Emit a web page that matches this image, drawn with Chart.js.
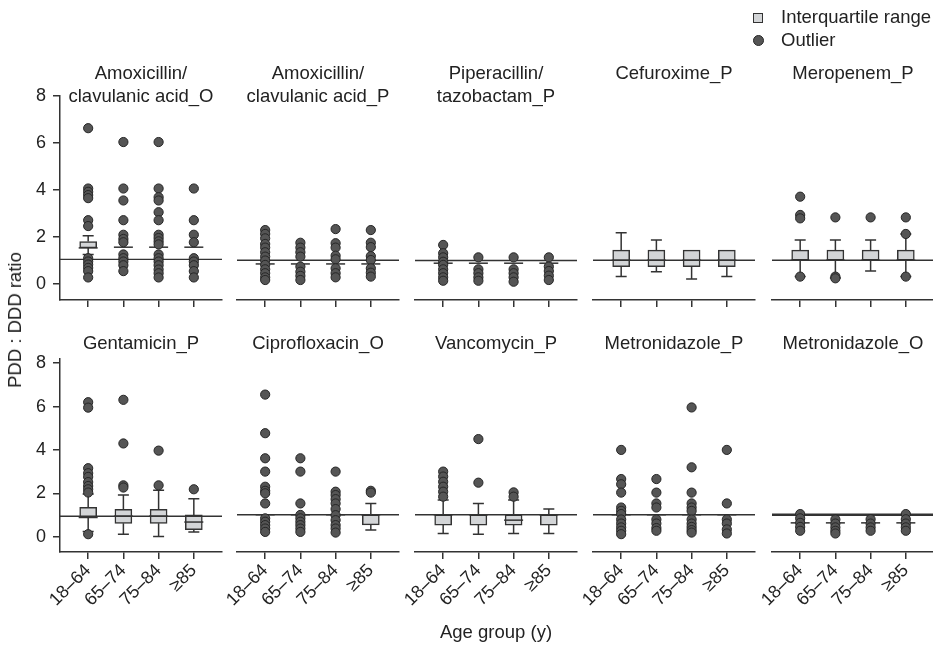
<!DOCTYPE html>
<html>
<head>
<meta charset="utf-8">
<script src="https://cdn.jsdelivr.net/npm/chart.js@4.4.1/dist/chart.umd.min.js"></script>
<style>
  body { margin: 0; background: #fff; width: 933px; height: 646px; position: relative; overflow: hidden;
         font-family: 'Liberation Sans', Arial, Helvetica, sans-serif; color: #222; }
  canvas { position: absolute; }
  .title { position: absolute; width: 220px; font-size: 18.5px; line-height: 23px; text-align: center; white-space: pre; }
  .lbl { position: absolute; font-size: 18.5px; white-space: nowrap; }
</style>
</head>
<body>
<script>
// ---- data ----
const drugs = [
  'Amoxicillin/\nclavulanic acid_O', 'Amoxicillin/\nclavulanic acid_P', 'Piperacillin/\ntazobactam_P', 'Cefuroxime_P', 'Meropenem_P',
  'Gentamicin_P', 'Ciprofloxacin_O', 'Vancomycin_P', 'Metronidazole_P', 'Metronidazole_O'
];
const ageGroups = ['18–64', '65–74', '75–84', '≥85'];
const yTicks = [0, 2, 4, 6, 8];
const refLine = [1.03, 0.93, 0.92, 0.93, 0.93, 0.95, 0.95, 0.95, 0.95, 0.95];

// box statistics per drug, per age group (null = not drawn)
const q1 = [
  [1.52, 1.55, 1.55, 1.55], [0.78, 0.78, 0.78, 0.78], [0.81, 0.81, 0.81, 0.81], [0.67, 0.67, 0.67, 0.67], [0.93, 0.93, 0.93, 0.93],
  [0.89, 0.62, 0.62, 0.33], [0.95, 0.95, 0.95, 0.50], [0.49, 0.49, 0.49, 0.49], [0.95, 0.95, 0.95, 0.95], [0.59, 0.59, 0.59, 0.59]
];
const median = [
  [1.52, 1.55, 1.55, 1.55], [0.78, 0.78, 0.78, 0.78], [0.81, 0.81, 0.81, 0.81], [0.93, 0.93, 0.93, 0.93], [0.93, 0.93, 0.93, 0.93],
  [0.89, 0.95, 0.95, 0.68], [0.95, 0.95, 0.95, 0.95], [0.95, 0.95, 0.71, 0.95], [0.95, 0.95, 0.95, 0.95], [0.59, 0.59, 0.59, 0.59]
];
const q3 = [
  [1.79, 1.55, 1.55, 1.55], [0.78, 0.78, 0.78, 0.78], [0.81, 0.81, 0.81, 0.81], [1.35, 1.35, 1.35, 1.35], [1.35, 1.35, 1.35, 1.35],
  [1.36, 1.26, 1.26, 1.01], [0.95, 0.95, 0.95, 0.95], [0.95, 0.95, 0.95, 0.95], [0.95, 0.95, 0.95, 0.95], [0.59, 0.59, 0.59, 0.59]
];
const whiskerLow = [
  [1.24, null, null, null], [null, null, null, null], [null, null, null, null], [0.26, 0.46, 0.16, 0.26], [0.26, 0.20, 0.49, 0.26],
  [0.24, 0.12, 0.01, 0.22], [null, null, null, 0.27], [0.12, 0.09, 0.12, 0.12], [null, null, null, null], [null, null, null, null]
];
const whiskerHigh = [
  [2.04, null, null, null], [null, null, null, null], [null, null, null, null], [2.06, 1.76, null, null], [1.76, 1.76, 1.76, 2.01],
  [1.97, 1.93, 2.15, 1.75], [null, null, null, 1.45], [1.60, 1.45, 1.60, 1.20], [null, null, null, null], [null, null, null, null]
];
const outliers = [
  [[6.62, 4.05, 3.91, 3.77, 3.64, 2.70, 2.45, 1.08, 0.94, 0.81, 0.67, 0.53, 0.26],
   [6.03, 4.05, 3.54, 2.70, 2.08, 1.90, 1.76, 1.24, 1.08, 0.94, 0.78, 0.53],
   [6.03, 4.05, 3.68, 3.54, 3.04, 2.70, 2.08, 1.94, 1.80, 1.67, 1.24, 1.08, 0.94, 0.78, 0.60, 0.44, 0.26],
   [4.05, 2.70, 2.08, 1.76, 1.08, 0.94, 0.78, 0.53, 0.26]],
  [[2.17, 2.01, 1.83, 1.60, 1.45, 1.26, 1.08, 0.92, 0.74, 0.56, 0.40, 0.23, 0.12],
   [1.65, 1.45, 1.26, 1.08, 0.67, 0.46, 0.29, 0.12],
   [2.21, 1.63, 1.45, 1.12, 0.97, 0.60, 0.40, 0.23],
   [2.17, 1.65, 1.47, 1.10, 0.94, 0.60, 0.42, 0.26]],
  [[1.56, 1.22, 1.05, 0.87, 0.74, 0.56, 0.40, 0.23, 0.09],
   [1.05, 0.56, 0.40, 0.23, 0.09],
   [1.05, 0.56, 0.40, 0.23, 0.05],
   [1.05, 0.67, 0.49, 0.30, 0.12]],
  [[], [], [], []],
  [[3.54, 2.79, 2.65, 0.26], [2.69, 0.26, 0.19], [2.69], [2.69, 2.01, 0.26]],
  [[6.20, 5.95, 3.16, 2.93, 2.76, 2.52, 2.34, 2.19, 2.04, 0.12], [6.31, 4.30, 2.37, 2.27], [3.97, 2.37], [2.19]],
  [[6.27, 4.56, 3.45, 2.86, 2.19, 2.01, 1.90, 1.45, 0.79, 0.64, 0.49, 0.34, 0.19],
   [3.45, 2.86, 1.45, 0.94, 0.79, 0.64, 0.49, 0.34, 0.19],
   [2.86, 1.97, 1.82, 1.64, 1.45, 1.20, 0.93, 0.71, 0.49, 0.34, 0.16],
   [2.01, 1.93]],
  [[2.86, 2.64, 2.41, 2.19, 1.97, 1.75], [4.30, 2.37], [1.94, 1.75], []],
  [[3.82, 2.53, 2.30, 1.93, 1.27, 1.12, 0.98, 0.74, 0.56, 0.39, 0.24, 0.09],
   [2.53, 1.93, 1.45, 1.27, 0.74, 0.56, 0.36, 0.24],
   [5.70, 3.05, 1.93, 1.45, 1.27, 1.12, 0.74, 0.56, 0.41, 0.27, 0.16],
   [3.82, 1.45, 0.74, 0.56, 0.30, 0.12]],
  [[0.98, 0.79, 0.59, 0.41, 0.24], [0.74, 0.56, 0.39, 0.24, 0.12], [0.75, 0.56, 0.39, 0.24], [0.98, 0.75, 0.56, 0.39, 0.24]]
];

// ---- layout ----
const FONT = "'Liberation Sans', Arial, Helvetica, sans-serif";
const INK = '#333';
const panelLeft = [60, 237, 415, 593, 772];
const PANEL_W = 162;
const rows = [
  { top: 88, height: 212, yMin: -0.7, yMax: 8, titleTop: 61 },
  { top: 351, height: 201, yMin: -0.7, yMax: 8.2, titleTop: 331 }
];
const Y_AXIS_W = 55, X_AXIS_H = 90, PAD_TOP = 10, PAD_RIGHT = 12;
const BOX_W = 17, CAP_W = 11;

Chart.defaults.font.family = FONT;
Chart.defaults.color = '#222';

const boxParts = {
  id: 'boxParts',
  beforeDatasetsDraw(chart) {
    const p = chart.options.plugins.boxParts.panel;
    const { ctx, scales: { x, y } } = chart;
    ctx.save();
    ctx.strokeStyle = INK;
    ctx.lineWidth = 1.5;
    ageGroups.forEach((g, i) => {
      const px = x.getPixelForValue(i);
      [[q3[p][i], whiskerHigh[p][i]], [q1[p][i], whiskerLow[p][i]]].forEach(([from, to]) => {
        if (to == null) return;
        const y0 = y.getPixelForValue(from), y1 = y.getPixelForValue(to);
        ctx.beginPath();
        ctx.moveTo(px, y0); ctx.lineTo(px, y1);
        ctx.moveTo(px - CAP_W / 2, y1); ctx.lineTo(px + CAP_W / 2, y1);
        ctx.stroke();
      });
    });
    ctx.restore();
  },
  afterDatasetDraw(chart, args) {
    if (args.meta.type !== 'bar') return;
    const p = chart.options.plugins.boxParts.panel;
    const { ctx, chartArea, scales: { x, y } } = chart;
    ctx.save();
    ctx.strokeStyle = INK;
    ctx.lineWidth = 1.5;
    ageGroups.forEach((g, i) => {
      const px = x.getPixelForValue(i), py = y.getPixelForValue(median[p][i]);
      ctx.beginPath();
      ctx.moveTo(px - BOX_W / 2 - 1, py); ctx.lineTo(px + BOX_W / 2 + 1, py);
      ctx.stroke();
    });
    const ry = y.getPixelForValue(refLine[p]);
    ctx.lineWidth = p === 9 ? 2.3 : 1.4;
    ctx.beginPath();
    ctx.moveTo(chartArea.left, ry); ctx.lineTo(chartArea.right + (p % 5 === 4 ? 10 : 0), ry);
    ctx.stroke();
    ctx.restore();
  }
};

drugs.forEach((name, p) => {
  const row = rows[Math.floor(p / 5)];
  const col = p % 5;
  const left = panelLeft[col];

  const cv = document.createElement('canvas');
  cv.width = Y_AXIS_W + PANEL_W + PAD_RIGHT;
  cv.height = PAD_TOP + row.height + X_AXIS_H;
  cv.style.left = (left - Y_AXIS_W) + 'px';
  cv.style.top = (row.top - PAD_TOP) + 'px';
  document.body.appendChild(cv);

  const points = [];
  outliers[p].forEach((vals, i) => vals.forEach(v => points.push({ x: i, y: v })));
  const boxes = ageGroups.map((g, i) => ({ x: i, y: q3[p][i] > q1[p][i] ? [q1[p][i], q3[p][i]] : null }));

  new Chart(cv, {
    type: 'scatter',
    data: {
      datasets: [
        { type: 'scatter', label: 'Outlier', data: points, order: 0, clip: false,
          pointRadius: 4.6, pointBackgroundColor: '#555', pointBorderColor: '#262626', pointBorderWidth: 1 },
        { type: 'bar', label: 'Interquartile range', data: boxes, order: 1, barThickness: BOX_W,
          backgroundColor: '#d3d5d7', borderColor: INK, borderWidth: 1.5, borderSkipped: false }
      ]
    },
    options: {
      responsive: false,
      animation: false,
      events: [],
      layout: { padding: { top: PAD_TOP, right: PAD_RIGHT, left: 0, bottom: 0 } },
      plugins: { legend: { display: false }, tooltip: { enabled: false }, boxParts: { panel: p } },
      scales: {
        x: {
          type: 'linear', min: -0.8, max: 3.8, offset: false,
          afterBuildTicks: s => { s.ticks = ageGroups.map((g, i) => ({ value: i })); },
          afterFit: s => { s.height = X_AXIS_H; },
          ticks: { display: p >= 5, callback: v => ageGroups[v], minRotation: 45, maxRotation: 45, autoSkip: false,
                   font: { size: 18 }, color: '#222', padding: 1 },
          grid: { display: true, offset: false, drawOnChartArea: false, drawTicks: true, tickLength: 7, color: INK, lineWidth: 1.5 },
          border: { display: true, color: INK, width: 1.5 }
        },
        y: {
          type: 'linear', min: row.yMin, max: row.yMax,
          afterBuildTicks: s => { s.ticks = yTicks.map(v => ({ value: v })); },
          afterFit: s => { s.width = Y_AXIS_W; },
          ticks: { display: col === 0, font: { size: 18 }, color: '#222', padding: 7 },
          grid: { display: col === 0, drawOnChartArea: false, drawTicks: true, tickLength: 7, color: INK, lineWidth: 1.5 },
          border: { display: col === 0, color: INK, width: 1.5 }
        }
      }
    },
    plugins: [boxParts]
  });

  const t = document.createElement('div');
  t.className = 'title';
  t.textContent = name;
  t.style.left = (left + PANEL_W / 2 - 110) + 'px';
  t.style.top = row.titleTop + 'px';
  document.body.appendChild(t);
});

function addLabel(text, css) {
  const d = document.createElement('div');
  d.className = 'lbl';
  d.textContent = text;
  Object.assign(d.style, css);
  document.body.appendChild(d);
  return d;
}
addLabel('PDD : DDD ratio', { left: '15px', top: '320px', transform: 'translate(-50%, -50%) rotate(-90deg)' });
addLabel('Age group (y)', { left: '496px', top: '632px', transform: 'translate(-50%, -50%)' });

// legend
const sq = document.createElement('div');
Object.assign(sq.style, { position: 'absolute', left: '753px', top: '13px', width: '8px', height: '8px',
  background: '#d3d5d7', border: '1.5px solid ' + INK });
document.body.appendChild(sq);
const dot = document.createElement('div');
Object.assign(dot.style, { position: 'absolute', left: '753px', top: '35px', width: '9px', height: '9px',
  borderRadius: '50%', background: '#555', border: '1px solid #262626' });
document.body.appendChild(dot);
addLabel('Interquartile range', { left: '781px', top: '17px', transform: 'translateY(-50%)' });
addLabel('Outlier', { left: '781px', top: '40px', transform: 'translateY(-50%)' });
</script>
</body>
</html>
